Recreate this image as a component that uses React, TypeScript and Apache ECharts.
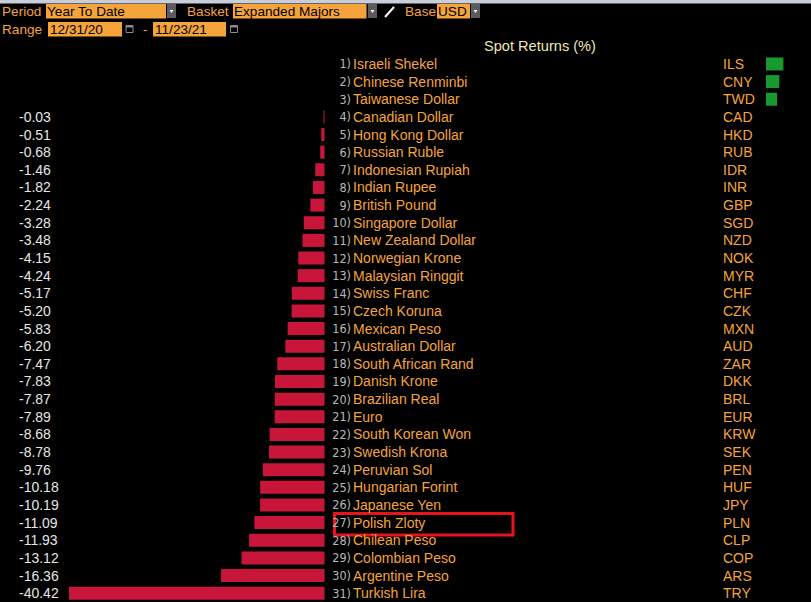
import React, { useEffect, useRef } from "react";
import * as echarts from "echarts";

const names = [
  "Israeli Shekel", "Chinese Renminbi", "Taiwanese Dollar", "Canadian Dollar", "Hong Kong Dollar",
  "Russian Ruble", "Indonesian Rupiah", "Indian Rupee", "British Pound", "Singapore Dollar",
  "New Zealand Dollar", "Norwegian Krone", "Malaysian Ringgit", "Swiss Franc", "Czech Koruna",
  "Mexican Peso", "Australian Dollar", "South African Rand", "Danish Krone", "Brazilian Real",
  "Euro", "South Korean Won", "Swedish Krona", "Peruvian Sol", "Hungarian Forint",
  "Japanese Yen", "Polish Zloty", "Chilean Peso", "Colombian Peso", "Argentine Peso", "Turkish Lira",
];
const codes = [
  "ILS", "CNY", "TWD", "CAD", "HKD", "RUB", "IDR", "INR", "GBP", "SGD", "NZD", "NOK", "MYR", "CHF",
  "CZK", "MXN", "AUD", "ZAR", "DKK", "BRL", "EUR", "KRW", "SEK", "PEN", "HUF", "JPY", "PLN", "CLP",
  "COP", "ARS", "TRY",
];
const returns = [
  2.75, 2.1, 1.75, -0.03, -0.51, -0.68, -1.46, -1.82, -2.24, -3.28, -3.48, -4.15, -4.24, -5.17,
  -5.2, -5.83, -6.2, -7.47, -7.83, -7.87, -7.89, -8.68, -8.78, -9.76, -10.18, -10.19, -11.09,
  -11.93, -13.12, -16.36, -40.42,
];

const ORANGE = "#f5a43c";
const FONT = '"Liberation Sans", Arial, sans-serif';
const NARROW = '"Liberation Sans Narrow", "DejaVu Sans Condensed", Arial, sans-serif';

function txt(text: string, x: number, y: number, fill: string, size = 13.6, align = "left") {
  return {
    type: "text",
    x,
    y,
    style: { text, fill, fontSize: size, fontFamily: FONT, align, verticalAlign: "middle" },
  };
}
function box(x: number, y: number, w: number, h: number, fill: string) {
  return { type: "rect", shape: { x, y, width: w, height: h }, style: { fill } };
}
function dropdown(x: number, y: number) {
  return [
    box(x, y, 9, 14, "#5c5c5c"),
    { type: "polygon", shape: { points: [[x + 2.5, y + 6], [x + 6.5, y + 6], [x + 4.5, y + 9]] }, style: { fill: "#ffffff" } },
  ];
}
function calendar(x: number, y: number) {
  return [
    { type: "rect", shape: { x, y, width: 7, height: 7 }, style: { fill: "none", stroke: "#8a8a8a", lineWidth: 1 } },
    box(x, y, 7, 2, "#8a8a8a"),
  ];
}

export default function App() {
  const ref = useRef<HTMLDivElement>(null);
  useEffect(() => {
    document.body.style.margin = "0";
    document.body.style.background = "#000";
    const chart = echarts.init(ref.current!, null, { renderer: "svg" });
    const rowH = 17.72;
    const top = 64 - rowH / 2;
    const height = rowH * names.length;
    const negData = returns.map((v) => (v < 0 ? v : null));
    const posData = returns.map((v) => (v > 0 ? v : null));
    const catAxis = {
      type: "category",
      inverse: true,
      data: names,
      axisLine: { show: false },
      axisTick: { show: false },
      splitLine: { show: false },
    };
    const graphic: any[] = [
      box(0, 0, 811, 3.5, "#c9ced8"),
      txt("Period", 2, 11.5, ORANGE),
      box(46, 4, 120, 14.5, ORANGE),
      txt("Year To Date", 47, 11.5, "#000"),
      ...dropdown(167, 4),
      txt("Basket", 187, 11.5, ORANGE),
      box(233, 4, 133.5, 14.5, ORANGE),
      txt("Expanded Majors", 234, 11.5, "#000"),
      ...dropdown(368, 4),
      { type: "line", shape: { x1: 385, y1: 17, x2: 394, y2: 7 }, style: { stroke: "#ffffff", lineWidth: 2 } },
      txt("Base", 405, 11.5, ORANGE),
      box(437, 4, 33, 14.5, ORANGE),
      txt("USD", 438, 11.5, "#000"),
      ...dropdown(471, 4),
      txt("Range", 2, 29, ORANGE),
      box(48, 22, 74, 14.5, ORANGE),
      txt("12/31/20", 50, 29, "#000"),
      ...calendar(126, 25.5),
      txt("-", 143, 29, ORANGE),
      box(153, 22, 73, 14.5, ORANGE),
      txt("11/23/21", 155, 29, "#000"),
      ...calendar(230.5, 25.5),
      txt("Spot Returns (%)", 484, 46, "#f1e6b6", 14.6),
      {
        type: "rect",
        shape: { x: 334.5, y: 513.5, width: 178.5, height: 21.5 },
        style: { fill: "none", stroke: "#e8141c", lineWidth: 3 },
      },
    ];
    chart.setOption({
      animation: false,
      backgroundColor: "#000",
      graphic,
      grid: [
        { left: 69, top, width: 255.5, height },
        { left: 766, top, width: 31.6, height },
      ],
      xAxis: [
        { type: "value", gridIndex: 0, min: -40.42, max: 0, show: false },
        { type: "value", gridIndex: 1, min: 0, max: 5, show: false },
      ],
      yAxis: [
        {
          ...catAxis,
          gridIndex: 0,
          position: "left",
          axisLabel: {
            interval: 0,
            align: "left",
            margin: 50,
            color: "#e6e6e6",
            fontSize: 14,
            fontFamily: FONT,
            formatter: (_v: string, i: number) => (returns[i] < 0 ? returns[i].toFixed(2) : ""),
          },
        },
        {
          ...catAxis,
          gridIndex: 0,
          position: "right",
          axisLabel: {
            interval: 0,
            align: "right",
            margin: 26.5,
            color: "#b8b8b8",
            fontSize: 12.5,
            fontFamily: NARROW,
            formatter: (_v: string, i: number) => `${i + 1})`,
          },
        },
        {
          ...catAxis,
          gridIndex: 0,
          position: "right",
          axisLabel: {
            interval: 0,
            align: "left",
            margin: 28.5,
            color: ORANGE,
            fontSize: 14,
            fontFamily: FONT,
          },
        },
        {
          ...catAxis,
          gridIndex: 1,
          position: "left",
          axisLabel: {
            interval: 0,
            align: "left",
            margin: 43,
            color: ORANGE,
            fontSize: 14,
            fontFamily: FONT,
            formatter: (_v: string, i: number) => codes[i],
          },
        },
      ],
      series: [
        {
          type: "bar",
          xAxisIndex: 0,
          yAxisIndex: 0,
          data: negData,
          barWidth: 13,
          barMinHeight: 1,
          itemStyle: { color: "#c8163a" },
        },
        {
          type: "bar",
          xAxisIndex: 1,
          yAxisIndex: 3,
          data: posData,
          barWidth: 13,
          itemStyle: { color: "#169a2e" },
        },
      ],
    });
    return () => chart.dispose();
  }, []);
  return <div ref={ref} style={{ width: 811, height: 602 }} />;
}
